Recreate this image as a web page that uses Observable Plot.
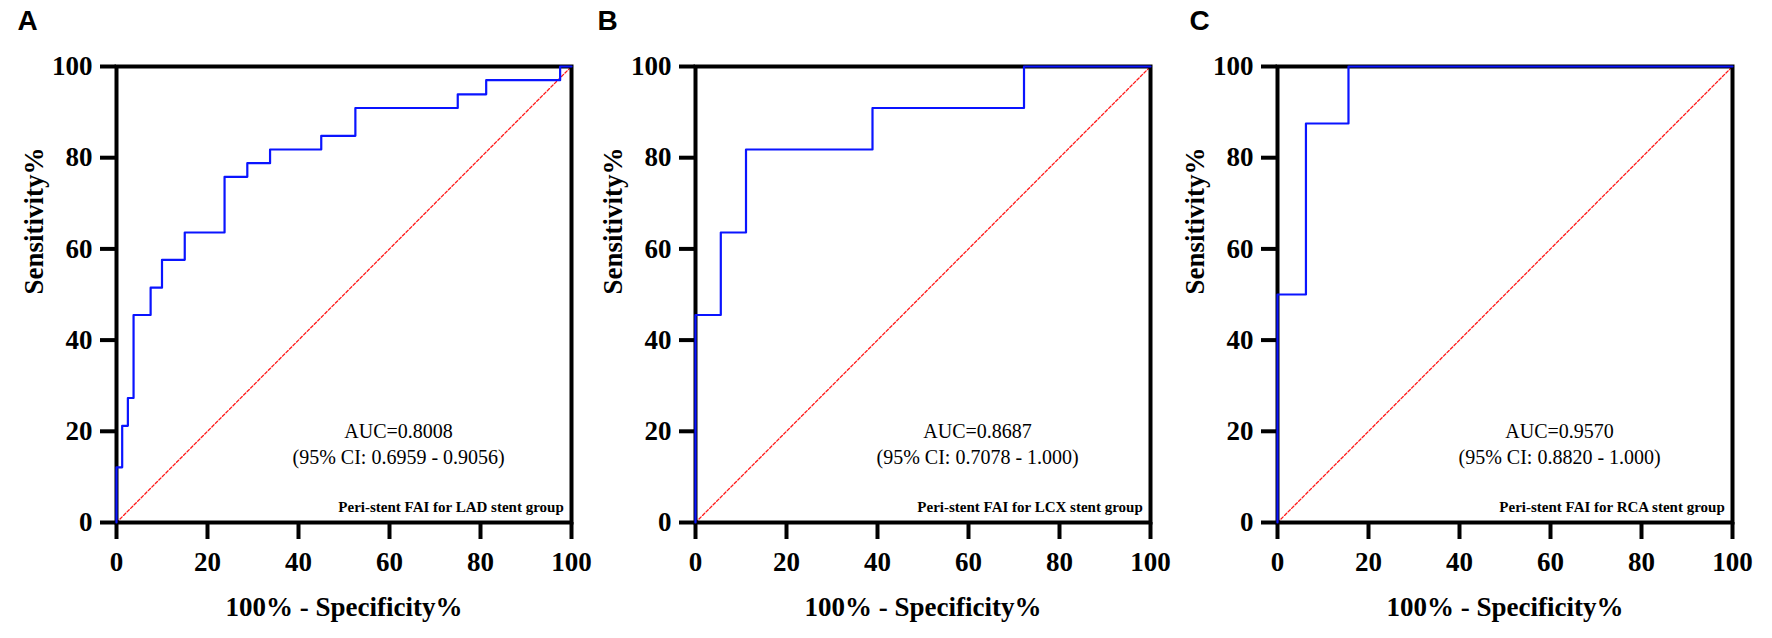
<!DOCTYPE html>
<html>
<head>
<meta charset="utf-8">
<script src="https://cdn.jsdelivr.net/npm/d3@7"></script>
<script src="https://cdn.jsdelivr.net/npm/@observablehq/plot@0.6"></script>
<style>
  html, body { margin: 0; padding: 0; background: white; }
  #row { display: flex; width: 1772px; height: 638px; }
  #row > div { flex: none; }
</style>
</head>
<body>
<div id="row"></div>
<script>
// ---- data ----
const panelLetters = ["A", "B", "C"];
const groupLabels = ["Peri-stent FAI for LAD stent group", "Peri-stent FAI for LCX stent group", "Peri-stent FAI for RCA stent group"];
const aucLabels = ["AUC=0.8008", "AUC=0.8687", "AUC=0.9570"];
const ciLabels = ["(95% CI: 0.6959 - 0.9056)", "(95% CI: 0.7078 - 1.000)", "(95% CI: 0.8820 - 1.000)"];

// ROC corner points: 100% - Specificity% (x) and Sensitivity% (y)
const fprA = [0, 0, 1.25, 2.5, 3.75, 7.5, 10, 15, 23.75, 28.75, 33.75, 45, 52.5, 75, 81.25, 97.5, 100];
const tprA = [0, 12.1, 21.2, 27.3, 45.5, 51.5, 57.6, 63.6, 75.8, 78.8, 81.8, 84.8, 90.9, 93.9, 97.0, 100, 100];
const fprB = [0, 0, 5.56, 11.1, 38.9, 72.2, 100];
const tprB = [0, 45.5, 63.6, 81.8, 90.9, 100, 100];
const fprC = [0, 0, 6.25, 15.6, 100];
const tprC = [0, 50, 87.5, 100, 100];

const referenceLine = [0, 100];        // chance diagonal (x = y)
const tickValues = [0, 20, 40, 60, 80, 100];
const xTitle = "100% - Specificity%";
const yTitle = "Sensitivity%";

// ---- layout ----
const svgWidths = [579, 582, 611];
const letterDx = [-99, -98, -88];
const serif = "Liberation Serif, Times New Roman, serif";

const curves = [[fprA, tprA], [fprB, tprB], [fprC, tprC]];
const row = document.getElementById("row");

curves.forEach(([fpr, tpr], i) => {
  const pts = fpr.map((x, k) => ({x, y: tpr[k]}));
  const diag = referenceLine.map(v => ({x: v, y: v}));
  const W = svgWidths[i];
  const chart = Plot.plot({
    width: W,
    height: 638,
    marginLeft: 116,
    marginRight: W - 116 - 455,
    marginTop: 66,
    marginBottom: 116,
    x: {domain: [0, 100], label: null},
    y: {domain: [0, 100], label: null},
    style: {fontFamily: serif, overflow: "visible", background: "transparent", color: "black"},
    marks: [
      Plot.axisX({ticks: tickValues, tickSize: 17, tickPadding: 12, strokeWidth: 4, fontSize: 27, fontWeight: "bold", fontFamily: serif, label: null}),
      Plot.axisY({ticks: tickValues, tickSize: 16, tickPadding: 8, strokeWidth: 4, fontSize: 27, fontWeight: "bold", fontFamily: serif, label: null}),
      Plot.line(diag, {x: "x", y: "y", stroke: "#ff1a1a", strokeWidth: 1.3, strokeDasharray: "3,2"}),
      Plot.frame({stroke: "black", strokeWidth: 4}),
      Plot.line(pts, {x: "x", y: "y", curve: "step-after", stroke: "#0a14ff", strokeWidth: 2.2}),
      Plot.text([aucLabels[i]], {x: () => 62, y: () => 20, text: d => d, fontSize: 20, fontWeight: "normal", fontFamily: serif, textAnchor: "middle", lineAnchor: "middle"}),
      Plot.text([ciLabels[i]], {x: () => 62, y: () => 14.2, text: d => d, fontSize: 20, fontWeight: "normal", fontFamily: serif, textAnchor: "middle", lineAnchor: "middle"}),
      Plot.text([groupLabels[i]], {x: () => 98.3, y: () => 3.4, text: d => d, fontSize: 15, fontWeight: "bold", fontFamily: serif, textAnchor: "end", lineAnchor: "middle"}),
      Plot.text([xTitle], {frameAnchor: "bottom", dy: 85, fontSize: 27, fontWeight: "bold", fontFamily: serif, lineAnchor: "middle"}),
      Plot.text([yTitle], {frameAnchor: "left", dx: -82, rotate: -90, fontSize: 27, fontWeight: "bold", fontFamily: serif, lineAnchor: "middle"}),
      Plot.text([panelLetters[i]], {frameAnchor: "top-left", dx: letterDx[i], dy: -45, textAnchor: "start", lineAnchor: "middle", fontSize: 28, fontWeight: "bold", fontFamily: "Liberation Sans, Arial, sans-serif"})
    ]
  });
  const wrap = document.createElement("div");
  wrap.style.width = W + "px";
  wrap.appendChild(chart);
  row.appendChild(wrap);
});
</script>
</body>
</html>
